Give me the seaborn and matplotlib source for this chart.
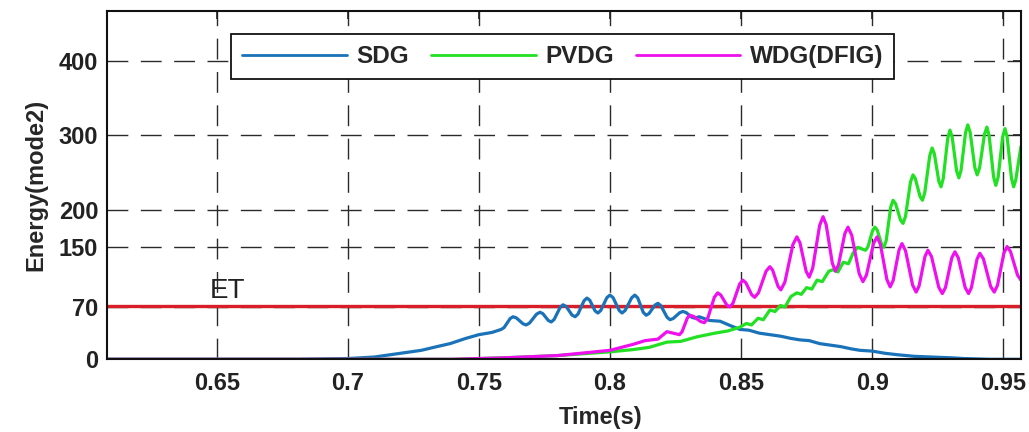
import numpy as np
import pandas as pd
import matplotlib
matplotlib.use("Agg")
import matplotlib.pyplot as plt
import seaborn as sns

# ---------------- data ----------------
sdg_t = [0.608, 0.68, 0.70, 0.71, 0.72, 0.728, 0.734, 0.739, 0.745, 0.750, 0.755,
         0.7585, 0.7596, 0.7619, 0.7630, 0.7643, 0.7668, 0.7680, 0.7693, 0.7720, 0.7733,
         0.7744, 0.7765, 0.7776, 0.7787, 0.7810, 0.7821, 0.7833, 0.7855, 0.7867, 0.7878,
         0.7901, 0.7912, 0.7923, 0.7943, 0.7954, 0.7965, 0.7988, 0.8000, 0.8012, 0.8035,
         0.8046, 0.8058, 0.8083, 0.8095, 0.8106, 0.8127, 0.8138, 0.8149, 0.8172, 0.8183,
         0.8194, 0.8218, 0.8229, 0.8241, 0.8266, 0.8278, 0.8290, 0.8312, 0.8324, 0.834,
         0.838, 0.842, 0.846, 0.8496, 0.853, 0.857, 0.861, 0.865, 0.869, 0.8725, 0.876,
         0.880, 0.884, 0.888, 0.892, 0.8954, 0.900, 0.905, 0.910, 0.916, 0.923, 0.930,
         0.935, 0.945, 0.9568]
sdg_y = [0, 0, 1, 3, 8, 12, 17, 21, 28, 33, 36,
         40, 42.5, 54.5, 57, 55.4, 47.6, 46, 48.5, 60.5, 63,
         61.1, 51.9, 50, 53.4, 69.6, 73, 70.7, 59.3, 57, 60.6,
         78.4, 82, 79.1, 64.9, 62, 65.5, 82.5, 86, 82.5, 65.5,
         62, 65.5, 82.5, 86, 82.1, 62.9, 59, 61.3, 72.7, 75,
         71.8, 56.2, 53, 54.6, 62.4, 64, 62.7, 56.3, 55, 57,
         52, 51, 45, 40, 39, 35, 33, 31, 28, 26, 25,
         21, 19, 17, 14, 12, 11, 8, 6, 4, 3, 2,
         1, 0, 0]

pvdg_t = [0.608, 0.74, 0.76, 0.78, 0.80, 0.8088, 0.8150, 0.8217, 0.8270, 0.8331, 0.8400,
          0.8450, 0.8496, 0.8520, 0.8540, 0.8565, 0.8585, 0.8610, 0.8630, 0.8650, 0.8668,
          0.8690, 0.8713, 0.8730, 0.8750, 0.8770, 0.8790, 0.8810, 0.8835, 0.8851, 0.8870,
          0.8890, 0.8910, 0.8927, 0.8945, 0.8975, 0.8984, 0.9002, 0.9011, 0.90195,
          0.90365, 0.9045, 0.9054, 0.9071, 0.9080, 0.90895, 0.91085, 0.9118, 0.91275, 0.91465,
          0.9156, 0.9165, 0.9183, 0.9192, 0.9201, 0.9220, 0.9229, 0.92375, 0.92545, 0.9263,
          0.92715, 0.92885, 0.9297, 0.93055, 0.93225, 0.9331, 0.93395, 0.93565, 0.9365, 0.9374,
          0.9392, 0.9401, 0.9410, 0.9429, 0.9438, 0.94465, 0.94635, 0.9472, 0.9481, 0.9498,
          0.9507, 0.95153, 0.95318, 0.9540, 0.9548, 0.9562, 0.9568]
pvdg_y = [0, 0, 2, 5, 10, 13, 16, 23, 24, 30, 35,
          38, 43, 48, 46, 55, 53, 66, 64, 72, 70,
          84, 89, 87, 96, 94, 106, 104, 118, 120, 117,
          130, 128, 142, 150, 146, 150.5, 172.5, 177, 173.1,
          153.9, 150, 159.2, 203.8, 213, 208.5, 186.5, 182, 191.5, 237.5,
          247, 242, 218, 213, 223.2, 272.8, 283, 275.4, 238.6, 231,
          242.1, 295.9, 307, 297.7, 252.3, 243, 253.4, 303.6, 314, 304.2,
          256.8, 247, 256.3, 301.7, 311, 299.6, 244.4, 233, 244.1, 297.9,
          309, 297.6, 242.4, 231, 240, 272, 285]

wdg_t = [0.608, 0.74, 0.76, 0.78, 0.80, 0.8088, 0.8134, 0.8183, 0.8217, 0.8265, 0.8275,
         0.8295, 0.8305, 0.83188, 0.83463, 0.8360, 0.83728, 0.83983, 0.8411, 0.84225, 0.84455,
         0.8457, 0.84695, 0.84945, 0.8507, 0.85183, 0.85408, 0.8552, 0.85665, 0.85955, 0.8610,
         0.86205, 0.86415, 0.8652, 0.86673, 0.86978, 0.8713, 0.87248, 0.87483, 0.8760, 0.87733,
         0.87998, 0.8813, 0.88248, 0.88483, 0.8860, 0.8872, 0.8896, 0.8908, 0.89223, 0.89508,
         0.8965, 0.89785, 0.90055, 0.9019, 0.90315, 0.90565, 0.9069, 0.90803, 0.91028, 0.9114,
         0.91275, 0.91545, 0.9168, 0.91793, 0.92018, 0.9213, 0.92268, 0.92543, 0.9268, 0.9280,
         0.9304, 0.9316, 0.9329, 0.9355, 0.9368, 0.93788, 0.94003, 0.9411, 0.94248, 0.94523,
         0.9466, 0.94783, 0.95028, 0.9515, 0.9528, 0.9555, 0.9568]
wdg_y = [0, 0, 2, 5, 12, 20, 25, 27, 37, 33, 36.8,
         55.2, 59, 57.5, 50.5, 49, 54.8, 83.2, 89, 86.2, 72.8,
         70, 75.3, 100.7, 106, 102.6, 86.4, 83, 89, 118, 124,
         119.5, 97.5, 93, 103.4, 153.6, 164, 156.1, 117.9, 110, 121.8,
         179.2, 191, 180.3, 128.7, 118, 126.6, 168.4, 177, 166.3, 114.7,
         104, 112.8, 155.2, 164, 154.2, 106.8, 97, 105.5, 146.5, 155,
         145.5, 99.5, 90, 98.2, 137.8, 146, 137.5, 96.5, 88, 96.2,
         135.8, 144, 135.8, 96.2, 88, 95.9, 134.1, 142, 134.4, 97.6,
         90, 98.9, 142.1, 151, 144.4, 112.6, 106]

series_names = ["SDG", "PVDG", "WDG(DFIG)"]
series_colors = ["#1a72b8", "#22e022", "#ee10ee"]
et_value = 71
et_label = "ET"
x_ticks = [0.65, 0.7, 0.75, 0.8, 0.85, 0.9, 0.95]
x_tick_labels = ["0.65", "0.7", "0.75", "0.8", "0.85", "0.9", "0.95"]
y_ticks = [0, 70, 150, 200, 300, 400]
x_label = "Time(s)"
y_label = "Energy(mode2)"

# ---------------- style ----------------
sns.set_theme(style="white")
plt.rcParams["font.family"] = ["Liberation Sans", "DejaVu Sans"]
plt.rcParams["font.weight"] = "bold"
plt.rcParams["axes.labelweight"] = "bold"

fig = plt.figure(figsize=(10.29, 4.32), dpi=100)
ax = fig.add_axes([0.1037, 0.1683, 0.9922 - 0.1037, 0.9745 - 0.1683])

frames = []
for name, t, y in zip(series_names, [sdg_t, pvdg_t, wdg_t], [sdg_y, pvdg_y, wdg_y]):
    frames.append(pd.DataFrame({"t": t, "E": y, "series": name}))
df = pd.concat(frames, ignore_index=True)

sns.lineplot(data=df, x="t", y="E", hue="series", hue_order=series_names,
             palette=dict(zip(series_names, series_colors)), estimator=None,
             sort=False, linewidth=2.3, ax=ax)
for ln in ax.get_lines():
    ln.set_solid_joinstyle("round")

ax.axhline(et_value, color="#d81e28", linewidth=2.4, zorder=1.5)
ax.text(0.6474, et_value + 3, et_label, fontsize=20, fontweight="normal",
        color="#222222", ha="left", va="bottom")

ax.set_xlim(0.608, 0.9568)
ax.set_ylim(0, 466.5)
ax.set_xticks(x_ticks)
ax.set_xticklabels(x_tick_labels)
ax.set_yticks(y_ticks)
ax.set_xlabel(x_label, fontsize=17, fontweight="bold", labelpad=2)
ax.xaxis.set_label_coords(0.54, -0.135)
ax.set_ylabel(y_label, fontsize=17, fontweight="bold", labelpad=8)

ax.tick_params(axis="both", which="major", direction="in", length=6, width=1.2,
               labelsize=17, top=True, right=True, color="#222222")
ax.tick_params(axis="x", pad=9)
ax.tick_params(axis="y", pad=6)
for lab in ax.get_xticklabels() + ax.get_yticklabels():
    lab.set_fontweight("bold")
    lab.set_color("#222222")

ax.grid(True, color="#2a2a2a", linestyle=(0, (15, 9)), linewidth=1.0)
ax.set_axisbelow(True)
for sp in ax.spines.values():
    sp.set_visible(True)
    sp.set_color("#111111")
    sp.set_linewidth(1.5)

leg = ax.legend(loc="upper center", bbox_to_anchor=(0.499, 0.968), ncol=3,
                frameon=True, fancybox=False, framealpha=1, edgecolor="#111111",
                prop={"size": 17.5, "weight": "bold"}, handlelength=4.3,
                handletextpad=0.4, columnspacing=0.9, borderpad=0.45)
leg.get_frame().set_linewidth(1.3)
for line in leg.get_lines():
    line.set_linewidth(2.0)

fig.savefig("out.png", dpi=100)
